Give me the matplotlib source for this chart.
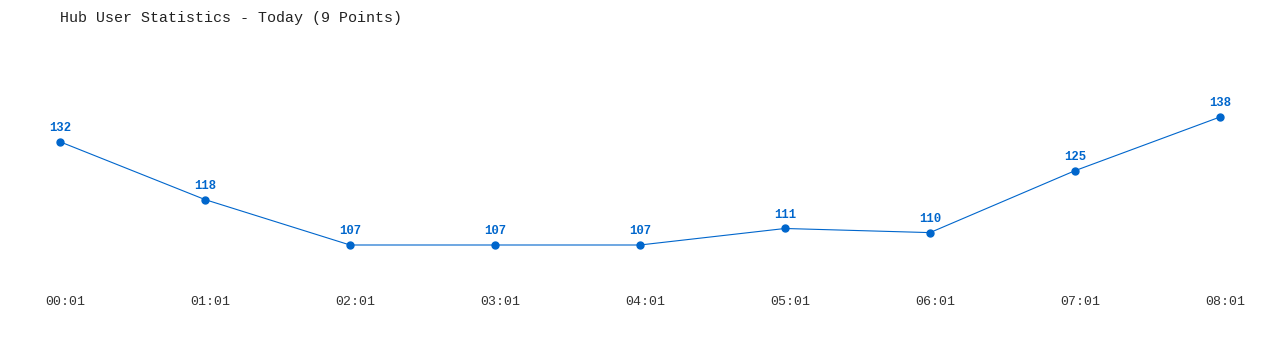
import matplotlib.pyplot as plt
import matplotlib.transforms as mtransforms

# data
times = ['00:01', '01:01', '02:01', '03:01', '04:01', '05:01', '06:01', '07:01', '08:01']
users = [132, 118, 107, 107, 107, 111, 110, 125, 138]

color = '#0066cc'
mono = ['Liberation Mono', 'DejaVu Sans Mono']

fig = plt.figure(figsize=(12.8, 3.5), dpi=100)
ax = fig.add_axes([60 / 1280, 105 / 350, 1160 / 1280, 128 / 350])

x = list(range(len(users)))
ax.plot(x, users, color=color, linewidth=0.8, marker='o', markersize=5, clip_on=False)

for xi, v in zip(x, users):
    ax.annotate(str(v), (xi, v), xytext=(0, 5.5), textcoords='offset points',
                ha='center', va='bottom', fontsize=8.8, fontweight='bold',
                color=color, family=mono)

ax.set_xlim(0, len(users) - 1)
ax.set_ylim(min(users), max(users))
ax.set_xticks(x)
ax.set_xticklabels(times, family=mono, fontsize=9.5, color='#333333')
ax.tick_params(axis='x', length=0, pad=37)
# tick labels sit a little right of the points
shift = mtransforms.ScaledTranslation(5 / 100, 0, fig.dpi_scale_trans)
for lbl in ax.get_xticklabels():
    lbl.set_transform(lbl.get_transform() + shift)
ax.set_yticks([])
for s in ax.spines.values():
    s.set_visible(False)

fig.text(60 / 1280, 1 - 18 / 350, 'Hub User Statistics - Today (9 Points)',
         family=mono, fontsize=10.8, color='#222222', va='center', ha='left')

fig.savefig('out.png', dpi=100)
